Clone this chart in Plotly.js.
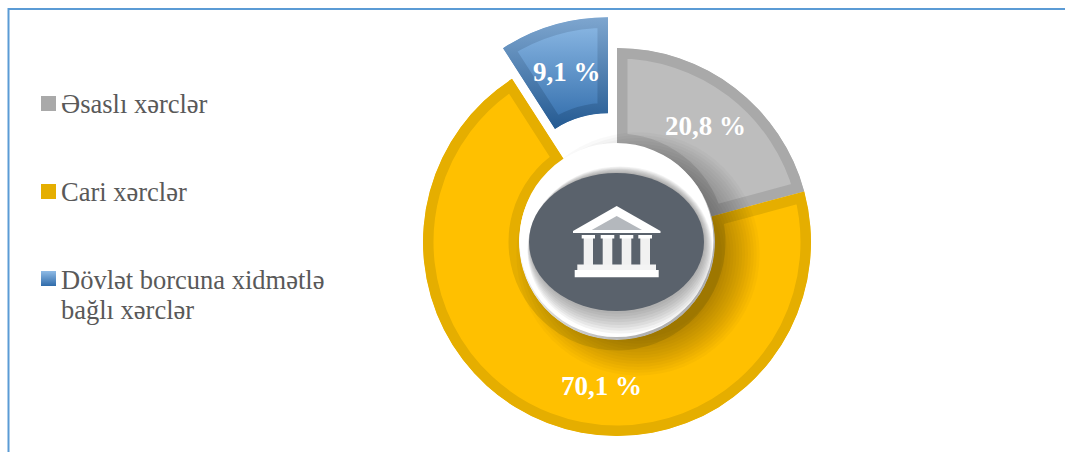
<!DOCTYPE html>
<html>
<head>
<meta charset="utf-8">
<script src="https://cdn.plot.ly/plotly-3.0.1.min.js"></script>
<style>html,body{margin:0;padding:0;background:#fff;overflow:hidden}#c{width:1065px;height:452px;overflow:hidden}</style>
</head>
<body>
<div id="c"></div>
<script>
var categories = ['Əsaslı xərclər', 'Cari xərclər', 'Dövlət borcuna xidmətlə<br>bağlı xərclər'];
var values = [20.8, 70.1, 9.1];
var valueLabels = ['20,8 %', '70,1 %', '9,1 %'];
var pulls = [0, 0, 0.165];
var fills = ['#BDBDBD', '#FFC000', '#5B93CC'];
var bands = ['#A9A9A9', '#E5AE00', '#4A7FB5'];
var swatches = ['#A9A9A9', '#E5AE00', '#5B93CC'];

var W = 1065, H = 482;
function px(x){return x / W;}
function py(y){return 1 - y / H;}
var SERIF = '"Liberation Serif","Times New Roman",serif';
var shapes = [];
function rect(x0, y0, x1, y1, c){shapes.push({type:'rect',xref:'paper',yref:'paper',x0:px(x0),x1:px(x1),y0:py(y0),y1:py(y1),fillcolor:c,line:{width:0},layer:'above'});}
function oval(cx, cy, rx, ry, c, op){shapes.push({type:'circle',xref:'paper',yref:'paper',x0:px(cx-rx),x1:px(cx+rx),y0:py(cy+ry),y1:py(cy-ry),fillcolor:c,opacity:op===undefined?1:op,line:{width:0},layer:'above'});}
function poly(pts, c){
  var d = pts.map(function(p,i){return (i?'L':'M')+px(p[0])+','+py(p[1]);}).join(' ')+' Z';
  shapes.push({type:'path',xref:'paper',yref:'paper',path:d,fillcolor:c,line:{width:0},layer:'above'});
}
// frame
shapes.push({type:'line',xref:'paper',yref:'paper',x0:px(8.5),x1:px(1065),y0:py(9),y1:py(9),line:{color:'#5B9BD5',width:2}});
shapes.push({type:'line',xref:'paper',yref:'paper',x0:px(8.5),x1:px(8.5),y0:py(8),y1:0,line:{color:'#5B9BD5',width:2}});
// legend swatches
var swatchTop = [96, 184, 271];
swatchTop.forEach(function(t,i){rect(41,t,56,t+15,swatches[i]);});
var blueSwatchIndex = shapes.length - 1;
// centre medallion
var i;
for(i=0;i<14;i++){oval(638,254,84+i*2.9,84+i*2.9,'#000000',0.024);}
oval(616.5,240,97,97,'#FFFFFF');
for(i=0;i<9;i++){
  var t=i/8;
  oval(617+t*3,242+t*8,87+t*5.5,69+t*14.5,'#555555',0.07);
}
oval(616.5,242,87.5,69,'#5A626C');
// temple icon
poly([[616.7,206],[660.5,231],[660.5,233],[573,233],[573,231]],'#FFFFFF');
poly([[616.7,216],[642,230],[591.7,230]],'#B4B8BD');
[[582.7,594],[601.7,613.3],[620.7,632.3],[639.3,651]].forEach(function(c){
  rect(c[0]+1,238,c[1]-1,265,'#F1F1F1');
  rect(c[0]-1,235,c[1]+1,238.5,'#FFFFFF');
});
rect(577.3,264.5,656,270,'#F4F4F4');
rect(574.7,270,658.7,277.3,'#FFFFFF');

var data = [{
  type:'pie', labels:categories, values:values, pull:pulls, sort:false, direction:'clockwise', rotation:0,
  hole:98/194, textinfo:'none', hoverinfo:'none', showlegend:false,
  marker:{colors:fills, line:{color:bands, width:21}},
  domain:{x:[391/W,843/W], y:[14/H,466/H]}
}];

var labelPos = [[705,126],[601,386],[567,72]];
var annotations = valueLabels.map(function(s,i){
  return {xref:'paper',yref:'paper',x:px(labelPos[i][0]),y:py(labelPos[i][1]),text:'<b>'+s+'</b>',showarrow:false,
    font:{family:SERIF,size:27,color:'#FFFFFF'},xanchor:'center',yanchor:'middle'};
});
// legend text, one annotation per written line
var legendY = [[104], [192], [280, 310]];
categories.forEach(function(s,i){
  s.split('<br>').forEach(function(line,j){
    annotations.push({xref:'paper',yref:'paper',x:px(58.5),y:py(legendY[i][j]),text:line,showarrow:false,align:'left',
      font:{family:SERIF,size:26.5,color:'#595959'},xanchor:'left',yanchor:'middle'});
  });
});

var layout = {width:W,height:H,margin:{l:0,r:0,t:0,b:0},paper_bgcolor:'#FFFFFF',plot_bgcolor:'#FFFFFF',showlegend:false,shapes:shapes,annotations:annotations};

Plotly.newPlot('c',data,layout,{displayModeBar:false,staticPlot:true}).then(function(gd){
  var svg = gd.querySelector('svg.main-svg');
  var NS = 'http://www.w3.org/2000/svg';
  var defs = document.createElementNS(NS,'defs');
  function grad(id,a,b){
    var g=document.createElementNS(NS,'linearGradient');
    g.setAttribute('id',id);g.setAttribute('x1','0');g.setAttribute('y1','0');g.setAttribute('x2','0');g.setAttribute('y2','1');
    [[0,a],[1,b]].forEach(function(s){var st=document.createElementNS(NS,'stop');st.setAttribute('offset',s[0]);st.setAttribute('stop-color',s[1]);g.appendChild(st);});
    defs.appendChild(g);
  }
  grad('blueFill','#8FBBE6','#2F6BAA');
  grad('blueBand','#7EA6CF','#245A92');
  // keep each slice's border inside its own edge
  gd.querySelectorAll('.slice path.surface').forEach(function(p,i){
    var cp=document.createElementNS(NS,'clipPath');
    cp.setAttribute('id','sliceClip'+i);
    var q=document.createElementNS(NS,'path');
    q.setAttribute('d',p.getAttribute('d'));
    cp.appendChild(q);defs.appendChild(cp);
    p.setAttribute('clip-path','url(#sliceClip'+i+')');
    if(i===2){p.style.fill='url(#blueFill)';p.style.stroke='url(#blueBand)';}
  });
  svg.insertBefore(defs,svg.firstChild);
  var sw=gd.querySelectorAll('.shapelayer path')[blueSwatchIndex];
  if(sw){sw.style.fill='url(#blueFill)';}
});
</script>
</body>
</html>
